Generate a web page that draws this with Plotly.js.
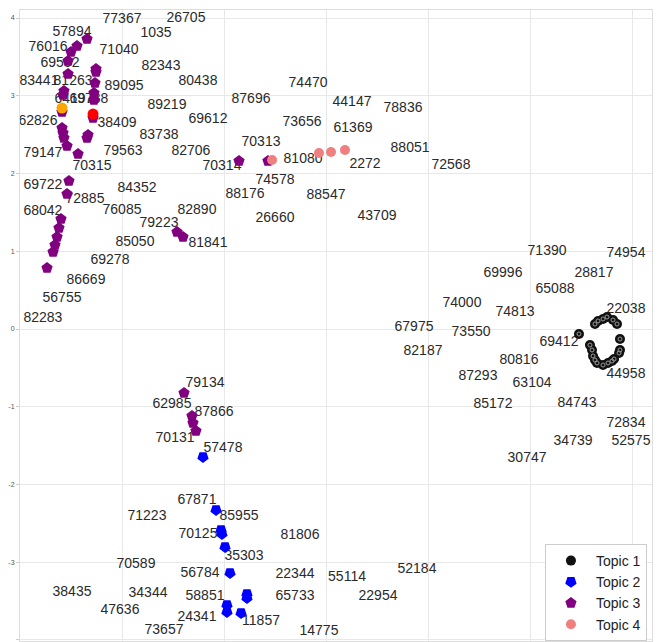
<!DOCTYPE html>
<html>
<head>
<meta charset="utf-8">
<script src="https://cdn.plot.ly/plotly-3.0.1.min.js"></script>
<style>html,body{margin:0;padding:0;background:#fff;}#chart{width:661px;height:642px;}</style>
</head>
<body>
<div id="chart"></div>
<script>
// ---- Data ----
const topic1X = [2.480, 2.637, 2.667, 2.716, 2.755, 2.814, 2.853, 2.882, 2.882, 2.873, 2.588, 2.608, 2.618, 2.637, 2.657, 2.716, 2.765, 2.804, 2.824];
const topic1Y = [-0.064, 0.064, 0.103, 0.129, 0.154, 0.116, 0.064, -0.129, -0.270, -0.309, -0.206, -0.270, -0.347, -0.399, -0.437, -0.463, -0.437, -0.412, -0.386];

const topic2X = [-1.206, -1.078, -1.029, -1.020, -0.990, -0.941, -0.775, -0.775, -0.971, -0.971, -0.833];
const topic2Y = [-1.646, -2.328, -2.585, -2.637, -2.804, -3.138, -3.408, -3.460, -3.550, -3.640, -3.653];

const topic3X = [-2.343, -2.441, -2.500, -2.529, -2.529, -2.255, -2.255, -2.265, -2.569, -2.578, -2.275, -2.275, -2.588, -2.284, -2.588, -2.578, -2.569, -2.539, -2.333, -2.343, -2.431, -2.520, -2.539, -2.598, -2.618, -2.637, -2.657, -2.676, -2.735, -1.461, -1.402, -0.853, -0.569, -1.392, -1.314, -1.304, -1.275];
const topic3Y = [3.730, 3.640, 3.563, 3.447, 3.280, 3.344, 3.305, 3.164, 3.061, 3.010, 3.035, 2.945, 2.791, 2.714, 2.585, 2.521, 2.457, 2.354, 2.495, 2.457, 2.251, 1.904, 1.736, 1.415, 1.299, 1.183, 1.080, 0.990, 0.785, 1.248, 1.183, 2.161, 2.161, -0.823, -1.119, -1.209, -1.312];

const topic4X = [-0.529, -0.069, 0.049, 0.186];
const topic4Y = [2.174, 2.264, 2.277, 2.302];

const highlightOrangeX = [-2.588];
const highlightOrangeY = [2.842];
const highlightRedX = [-2.284];
const highlightRedY = [2.765];

const labelText = ["77367","26705","1035","57894","76016","71040","69552","82343","83441","81263","89095","80438","64197","69738","89219","69612","62826","38409","83738","79147","79563","82706","70315","69722","84352","72885","68042","76085","82890","79223","85050","81841","69278","86669","56755","82283","74470","87696","44147","78836","73656","61369","70313","88051","70314","81080","2272","72568","74578","88176","88547","43709","26660","71390","74954","69996","28817","65088","74000","74813","22038","67975","73550","69412","82187","80816","44958","87293","63104","85172","84743","72834","34739","52575","30747","79134","62985","87866","70131","57478","67871","71223","85955","70125","81806","35303","70589","56784","22344","55114","52184","38435","34344","58851","65733","22954","47636","24341","11857","73657","14775"];
const labelX = [-2.000,-1.373,-1.667,-2.490,-2.725,-2.029,-2.608,-1.618,-2.814,-2.480,-1.980,-1.255,-2.471,-2.324,-1.559,-1.157,-2.824,-2.049,-1.637,-2.775,-1.990,-1.324,-2.294,-2.775,-1.853,-2.363,-2.775,-2.000,-1.265,-1.637,-1.873,-1.157,-2.118,-2.353,-2.588,-2.775,-0.176,-0.735,0.255,0.755,-0.235,0.265,-0.637,0.824,-1.020,-0.225,0.382,1.225,-0.500,-0.794,0.000,0.500,-0.500,2.167,2.941,1.735,2.627,2.245,1.333,1.853,2.941,0.863,1.422,2.284,0.951,1.892,2.941,1.490,2.020,1.637,2.461,2.941,2.422,2.990,1.971,-1.186,-1.510,-1.098,-1.480,-1.010,-1.265,-1.755,-0.853,-1.255,-0.255,-0.804,-1.863,-1.235,-0.304,0.206,0.892,-2.490,-1.745,-1.186,-0.304,0.510,-2.020,-1.265,-0.637,-1.588,-0.069];
const labelY = [3.987,4.000,3.807,3.820,3.627,3.576,3.421,3.370,3.177,3.177,3.125,3.177,2.958,2.958,2.881,2.701,2.675,2.637,2.495,2.251,2.277,2.277,2.084,1.852,1.801,1.672,1.505,1.518,1.518,1.363,1.119,1.106,0.875,0.630,0.386,0.129,3.164,2.958,2.907,2.830,2.662,2.585,2.405,2.328,2.084,2.174,2.122,2.109,1.916,1.736,1.711,1.453,1.415,1.003,0.965,0.720,0.720,0.502,0.322,0.206,0.257,0.013,-0.051,-0.180,-0.283,-0.399,-0.579,-0.617,-0.695,-0.965,-0.952,-1.209,-1.441,-1.453,-1.672,-0.707,-0.965,-1.080,-1.402,-1.543,-2.212,-2.418,-2.418,-2.637,-2.650,-2.932,-3.023,-3.151,-3.164,-3.190,-3.087,-3.383,-3.408,-3.447,-3.447,-3.447,-3.627,-3.717,-3.756,-3.884,-3.897];

const yTickVals = [-4, -3, -2, -1, 0, 1, 2, 3, 4];
const yTickText = ["-4", "-3", "-2", "-1", "0", "1", "2", "3", "4"];

// ---- Traces ----
const traces = [
  {
    x: labelX, y: labelY, text: labelText, mode: 'text', type: 'scatter',
    textfont: {family: 'Liberation Sans, Arial, sans-serif', size: 14, color: '#2a2a2a'},
    showlegend: false, hoverinfo: 'skip'
  },
  {
    x: topic1X, y: topic1Y, mode: 'markers', type: 'scatter', name: 'Topic 1', legendgroup: 't1',
    marker: {symbol: 'circle', size: 10, color: '#111111', line: {width: 0}}
  },
  {
    x: topic1X, y: topic1Y, mode: 'markers', type: 'scatter', name: 'Topic 1', legendgroup: 't1', showlegend: false,
    marker: {symbol: 'circle-open', size: 4, color: '#9a9a9a', line: {width: 1, color: '#9a9a9a'}}, hoverinfo: 'skip'
  },
  {
    x: topic2X, y: topic2Y, mode: 'markers', type: 'scatter', name: 'Topic 2',
    marker: {symbol: 'pentagon', angle: 180, size: 10, color: '#0000ff', line: {width: 1.5, color: '#0000ff'}}
  },
  {
    x: topic3X, y: topic3Y, mode: 'markers', type: 'scatter', name: 'Topic 3',
    marker: {symbol: 'pentagon', size: 10, color: '#800080', line: {width: 1.5, color: '#800080'}}
  },
  {
    x: topic4X, y: topic4Y, mode: 'markers', type: 'scatter', name: 'Topic 4',
    marker: {symbol: 'circle', size: 10, color: '#f08080'}
  },
  {
    x: highlightOrangeX, y: highlightOrangeY, mode: 'markers', type: 'scatter', showlegend: false,
    marker: {symbol: 'circle', size: 11, color: '#ffa500'}
  },
  {
    x: highlightRedX, y: highlightRedY, mode: 'markers', type: 'scatter', showlegend: false,
    marker: {symbol: 'circle', size: 11, color: '#ff0000'}
  }
];

const layout = {
  width: 661, height: 642,
  margin: {l: 20, r: 9, t: 10, b: 1, pad: 0},
  paper_bgcolor: '#ffffff', plot_bgcolor: '#ffffff',
  font: {family: 'Liberation Sans, Arial, sans-serif', color: '#2a2a2a'},
  xaxis: {
    range: [-3.0, 3.196], tick0: 0, dtick: 1, showticklabels: false,
    showgrid: true, gridcolor: '#e8e8e8', gridwidth: 1, zeroline: false,
    showline: true, mirror: true, linecolor: '#dddddd', linewidth: 1, ticks: ''
  },
  yaxis: {
    range: [-4.013, 4.103], tickvals: yTickVals, ticktext: yTickText,
    tickfont: {size: 7, color: '#555555'},
    showgrid: true, gridcolor: '#e8e8e8', gridwidth: 1, zeroline: false,
    showline: true, mirror: true, linecolor: '#dddddd', linewidth: 1,
    ticks: 'outside', ticklen: 3, tickcolor: '#cccccc'
  },
  showlegend: true,
  legend: {
    x: 0.992, y: 0.0, xanchor: 'right', yanchor: 'bottom',
    bgcolor: '#ffffff', bordercolor: '#cccccc', borderwidth: 1,
    font: {size: 14, color: '#222222'}, itemwidth: 40, tracegroupgap: 0
  }
};

Plotly.newPlot('chart', traces, layout, {displayModeBar: false, staticPlot: true});
</script>
</body>
</html>
